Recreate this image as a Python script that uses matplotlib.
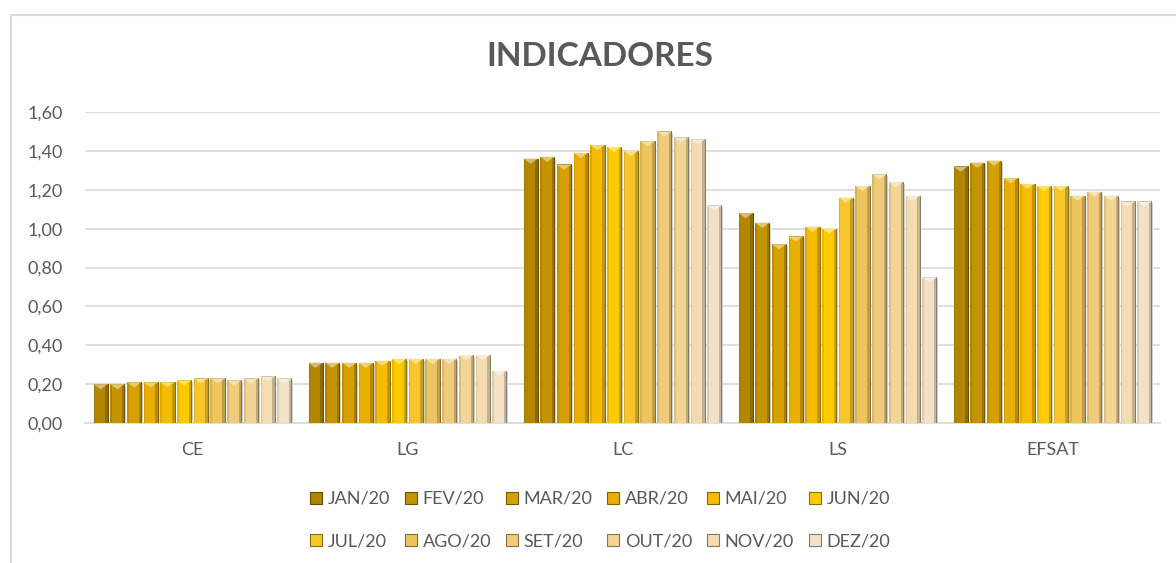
import numpy as np
import matplotlib
matplotlib.use('Agg')
import matplotlib.pyplot as plt
from matplotlib.colors import to_rgb
from matplotlib.patches import Polygon, Rectangle
from matplotlib.lines import Line2D

plt.rcParams['font.family'] = ['Lato', 'DejaVu Sans']

categories = ['CE', 'LG', 'LC', 'LS', 'EFSAT']
months = ['JAN/20', 'FEV/20', 'MAR/20', 'ABR/20', 'MAI/20', 'JUN/20',
          'JUL/20', 'AGO/20', 'SET/20', 'OUT/20', 'NOV/20', 'DEZ/20']

ce = [0.20, 0.20, 0.21, 0.21, 0.21, 0.22, 0.23, 0.23, 0.22, 0.23, 0.24, 0.23]
lg = [0.31, 0.31, 0.31, 0.31, 0.32, 0.33, 0.33, 0.33, 0.33, 0.35, 0.35, 0.27]
lc = [1.36, 1.37, 1.33, 1.39, 1.43, 1.42, 1.40, 1.45, 1.50, 1.47, 1.46, 1.12]
ls = [1.08, 1.03, 0.92, 0.96, 1.01, 1.00, 1.16, 1.22, 1.28, 1.24, 1.17, 0.75]
efsat = [1.32, 1.34, 1.35, 1.26, 1.23, 1.22, 1.22, 1.17, 1.19, 1.17, 1.14, 1.14]

month_colors = ['#b38600', '#c49300', '#d6a000', '#e8ae00', '#f5bc00', '#ffca00',
                '#f8c62a', '#eec45e', '#f0cb7a', '#f2d495', '#f4dcb0', '#f3e1c6']

values = np.array([ce, lg, lc, ls, efsat])  # rows = categories, cols = months


def shade(c, f):
    r = np.array(to_rgb(c))
    return tuple(np.clip(r * f, 0, 1))


def tint(c, f):
    r = np.array(to_rgb(c))
    return tuple(r + (1 - r) * f)


fig = plt.figure(figsize=(11.76, 5.63), dpi=100)
ax = fig.add_axes([85 / 1176, 1 - 423 / 563, 1075 / 1176, 311 / 563])

x = np.arange(len(categories))
slot = 0.0777
width = 0.066
tri_depth = 0.027

for j, m in enumerate(months):
    pos = x + (j - 5.5) * slot
    bars = ax.bar(pos, values[:, j], width, color=month_colors[j],
                  edgecolor=shade(month_colors[j], 0.55), linewidth=0.7,
                  label=m, zorder=3)
    for b in bars:
        x0, w, h = b.get_x(), b.get_width(), b.get_height()
        # soft shadow on the right
        ax.add_patch(Rectangle((x0 + w, 0), w * 0.12, h - 0.01,
                               color='#d0d0d0', zorder=2, lw=0))
        # darker right side of the bevel
        ax.add_patch(Rectangle((x0 + w * 0.82, 0), w * 0.18, h,
                               color=shade(month_colors[j], 0.8), zorder=3.5, lw=0))
        # lighter left strip
        ax.add_patch(Rectangle((x0, 0), w * 0.12, h,
                               color=shade(month_colors[j], 0.9), zorder=3.5, lw=0))
        # top highlight triangle
        ax.add_patch(Polygon([(x0, h), (x0 + w, h), (x0 + w / 2, h - tri_depth)],
                             closed=True, color=tint(month_colors[j], 0.45),
                             zorder=4, lw=0))

ax.set_ylim(0, 1.6)
ax.set_xlim(-0.5, len(categories) - 0.5)
yt = np.arange(0, 1.61, 0.2)
ax.set_yticks(yt)
ax.set_yticklabels([f'{v:.2f}'.replace('.', ',') for v in yt])
ax.set_xticks(x)
ax.set_xticklabels(categories)
ax.tick_params(axis='both', length=0, labelsize=13, labelcolor='#595959')
ax.tick_params(axis='y', pad=16)
ax.tick_params(axis='x', pad=14)
ax.grid(axis='y', color='#d9d9d9', linewidth=1.2, zorder=0)
for s in ['top', 'right', 'left']:
    ax.spines[s].set_visible(False)
ax.spines['bottom'].set_color('#d9d9d9')
ax.spines['bottom'].set_linewidth(1.2)

fig.text(600 / 1176, 1 - 57 / 563, 'INDICADORES', ha='center', va='center',
         fontsize=24, fontweight='bold', color='#595959')

handles = [Line2D([], [], marker='s', linestyle='none', markersize=9,
                  markerfacecolor=month_colors[j],
                  markeredgecolor=shade(month_colors[j], 0.55),
                  markeredgewidth=0.8) for j in range(len(months))]
# legend fills column by column, so interleave to get two rows of six
order = [j + 6 * r for j in range(6) for r in range(2)]
fig.legend([handles[k] for k in order], [months[k] for k in order],
           loc='center', ncol=6,
           bbox_to_anchor=(600 / 1176, 1 - 520 / 563), frameon=False,
           fontsize=13, labelcolor='#595959', handlelength=0.7,
           handletextpad=0.3, columnspacing=0.8, labelspacing=1.45)

# chart border (only top and left edges fall inside the picture)
fig.add_artist(Line2D([11 / 1176, 11 / 1176], [0, 1 - 15 / 563],
                      transform=fig.transFigure, color='#d9d9d9', lw=1.5))
fig.add_artist(Line2D([11 / 1176, 1], [1 - 15 / 563, 1 - 15 / 563],
                      transform=fig.transFigure, color='#d9d9d9', lw=1.5))

fig.savefig('out.png', dpi=100)
